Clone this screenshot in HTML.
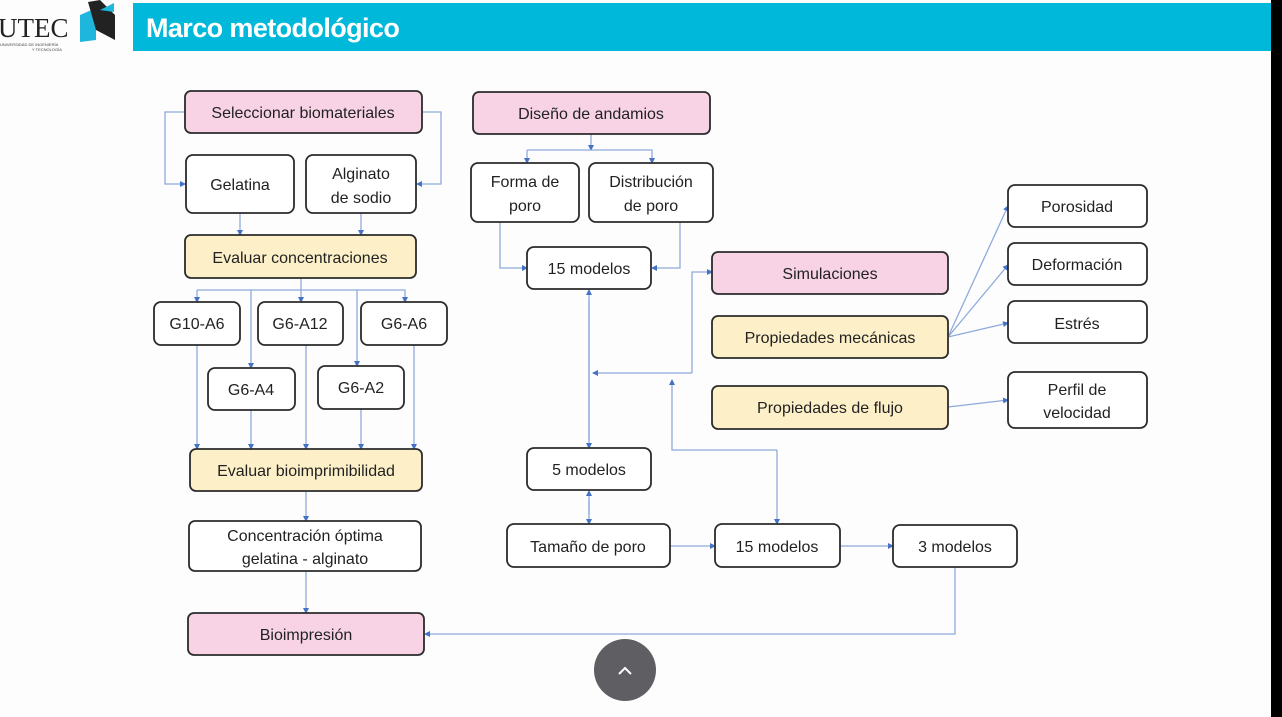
<!DOCTYPE html>
<html><head><meta charset="utf-8"><style>
body{margin:0;width:1282px;height:717px;overflow:hidden;background:#fdfdfd;font-family:"Liberation Sans",sans-serif;}
svg{position:absolute;left:0;top:0}
</style></head><body>
<svg width="1282" height="717" viewBox="0 0 1282 717" font-family="Liberation Sans, sans-serif">
<defs><marker id="a" markerWidth="6" markerHeight="6" refX="5" refY="3" orient="auto" markerUnits="userSpaceOnUse"><path d="M0,0 L6,3 L0,6z" fill="#4472c4"/></marker></defs>
<rect x="0" y="0" width="1282" height="717" fill="#fdfdfd"/>
<rect x="133" y="3" width="1138" height="48" fill="#00b8d9"/>
<rect x="1271" y="0" width="11" height="717" fill="#000"/>
<text x="146" y="37" font-size="27" font-weight="bold" fill="#fff" letter-spacing="-0.6">Marco metodológico</text>
<text x="-2" y="37" font-size="27" font-family="Liberation Serif, serif" fill="#222">UTEC</text>
<text x="0" y="46" font-size="4" fill="#444">UNIVERSIDAD DE INGENIERÍA</text>
<text x="32" y="51" font-size="4" fill="#444">Y TECNOLOGÍA</text>
<polygon points="80,15 96,8 96,40 80,42" fill="#1fb6de"/>
<polygon points="88,2 100,0 115,15 115,40 96,30" fill="#222"/>
<polygon points="100,10 114,3 114,12" fill="#1fb6de"/>
<g fill="none" stroke="#8faadc" stroke-width="1.3" marker-end="url(#a)">
<path d="M185,112H165V184H185"/><path d="M422,112H441V184H417"/>
<path d="M240,213V235"/><path d="M361,213V235"/>
<path d="M301,278V302"/><path d="M197,290H405V302" marker-end="url(#a)"/><path d="M197,290V302"/>
<path d="M251,290V368"/><path d="M357,290V366"/>
<path d="M197,345V449"/><path d="M251,410V449"/><path d="M306,345V449"/><path d="M361,409V449"/><path d="M414,345V449"/>
<path d="M306,491V521"/><path d="M306,571V613"/>
<path d="M955,567V634H425"/>
<path d="M591,134V150"/><path d="M527,150H652V163"/><path d="M527,150V163"/>
<path d="M500,222V268H527"/><path d="M680,222V268H652"/>
<path d="M589,300V448"/><path d="M589,440V290"/>
<path d="M692,373V272H712"/><path d="M692,373H593"/>
<path d="M777,450H672V380"/><path d="M777,450V524"/>
<path d="M589,500V524"/><path d="M589,515V491"/>
<path d="M670,546H715"/><path d="M840,546H893"/>
<path d="M948,337L1008,206"/><path d="M948,337L1008,265"/><path d="M948,337L1008,323"/><path d="M948,407L1008,400"/>
</g>
<g stroke="#2b2b2b" stroke-width="1.8" font-size="16" text-anchor="middle" fill="#222">
<rect x="185" y="91" width="237" height="42" rx="6" fill="#f7d3e5"/>
<rect x="186" y="155" width="108" height="58" rx="7" fill="#fff"/>
<rect x="306" y="155" width="110" height="58" rx="7" fill="#fff"/>
<rect x="185" y="235" width="231" height="43" rx="6" fill="#fdf0c8"/>
<rect x="154" y="302" width="86" height="43" rx="7" fill="#fff"/>
<rect x="258" y="302" width="85" height="43" rx="7" fill="#fff"/>
<rect x="361" y="302" width="86" height="43" rx="7" fill="#fff"/>
<rect x="208" y="368" width="87" height="42" rx="7" fill="#fff"/>
<rect x="318" y="366" width="86" height="43" rx="7" fill="#fff"/>
<rect x="190" y="449" width="232" height="42" rx="6" fill="#fdf0c8"/>
<rect x="189" y="521" width="232" height="50" rx="6" fill="#fff"/>
<rect x="188" y="613" width="236" height="42" rx="6" fill="#f7d3e5"/>
<rect x="473" y="92" width="237" height="42" rx="6" fill="#f7d3e5"/>
<rect x="471" y="163" width="108" height="59" rx="7" fill="#fff"/>
<rect x="589" y="163" width="124" height="59" rx="7" fill="#fff"/>
<rect x="527" y="247" width="124" height="42" rx="7" fill="#fff"/>
<rect x="527" y="448" width="124" height="42" rx="7" fill="#fff"/>
<rect x="507" y="524" width="163" height="43" rx="7" fill="#fff"/>
<rect x="715" y="524" width="125" height="43" rx="7" fill="#fff"/>
<rect x="893" y="525" width="124" height="42" rx="7" fill="#fff"/>
<rect x="712" y="252" width="236" height="42" rx="6" fill="#f7d3e5"/>
<rect x="712" y="316" width="236" height="42" rx="6" fill="#fdf0c8"/>
<rect x="712" y="386" width="236" height="43" rx="6" fill="#fdf0c8"/>
<rect x="1008" y="185" width="139" height="42" rx="7" fill="#fff"/>
<rect x="1008" y="243" width="139" height="42" rx="7" fill="#fff"/>
<rect x="1008" y="301" width="139" height="42" rx="7" fill="#fff"/>
<rect x="1008" y="372" width="139" height="56" rx="7" fill="#fff"/>
</g>
<g font-size="16" text-anchor="middle" fill="#222">
<text x="303" y="118">Seleccionar biomateriales</text>
<text x="240" y="190">Gelatina</text>
<text x="361" y="179">Alginato</text><text x="361" y="203">de sodio</text>
<text x="300" y="263">Evaluar concentraciones</text>
<text x="197" y="329">G10-A6</text>
<text x="300" y="329">G6-A12</text>
<text x="404" y="329">G6-A6</text>
<text x="251" y="395">G6-A4</text>
<text x="361" y="393">G6-A2</text>
<text x="306" y="476">Evaluar bioimprimibilidad</text>
<text x="305" y="541">Concentración óptima</text><text x="305" y="564">gelatina - alginato</text>
<text x="306" y="640">Bioimpresión</text>
<text x="591" y="119">Diseño de andamios</text>
<text x="525" y="187">Forma de</text><text x="525" y="211">poro</text>
<text x="651" y="187">Distribución</text><text x="651" y="211">de poro</text>
<text x="589" y="274">15 modelos</text>
<text x="589" y="475">5 modelos</text>
<text x="588" y="552">Tamaño de poro</text>
<text x="777" y="552">15 modelos</text>
<text x="955" y="552">3 modelos</text>
<text x="830" y="279">Simulaciones</text>
<text x="830" y="343">Propiedades mecánicas</text>
<text x="830" y="413">Propiedades de flujo</text>
<text x="1077" y="212">Porosidad</text>
<text x="1077" y="270">Deformación</text>
<text x="1077" y="329">Estrés</text>
<text x="1077" y="395">Perfil de</text><text x="1077" y="418">velocidad</text>
</g>
<circle cx="625" cy="670" r="31" fill="#5f5e62"/>
<path d="M619,674L625,668L631,674" fill="none" stroke="#fff" stroke-width="2"/>
</svg>
</body></html>
